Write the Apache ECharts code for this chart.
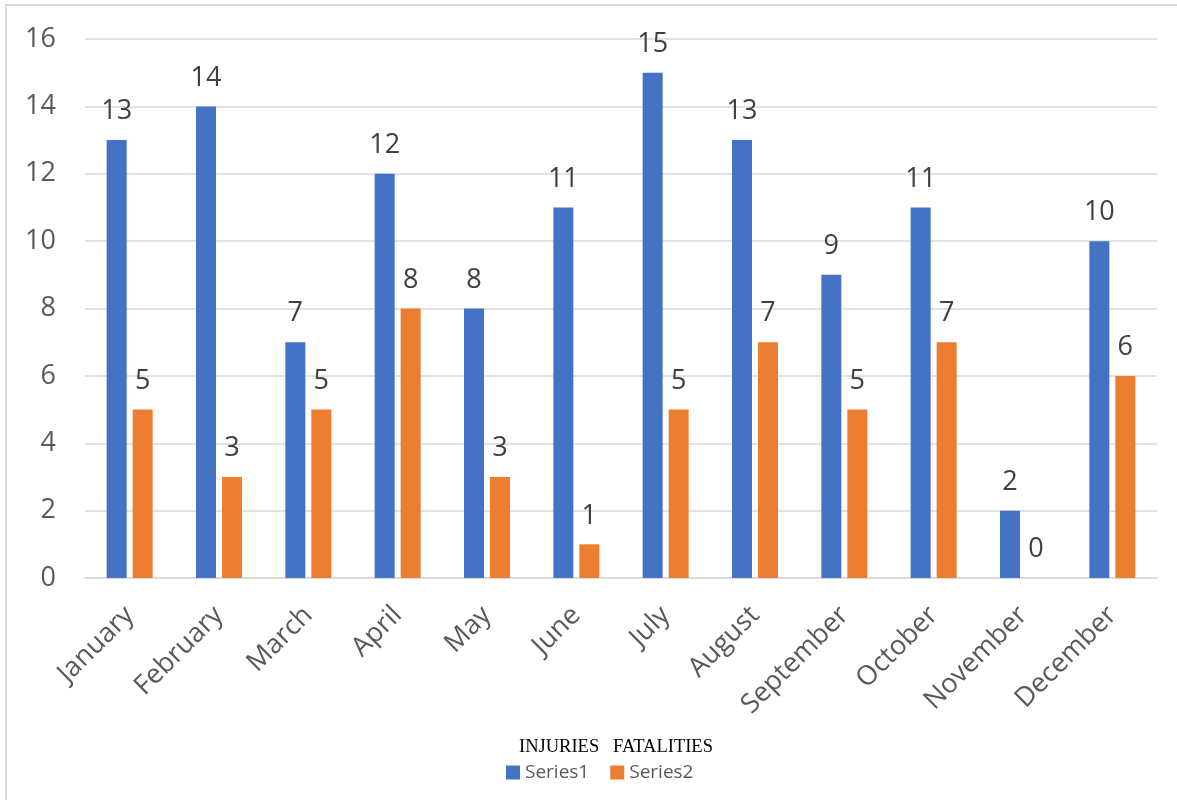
<!DOCTYPE html>
<html>
<head>
<meta charset="utf-8">
<script src="https://cdn.jsdelivr.net/npm/echarts@6/dist/echarts.min.js"></script>
<style>
  html, body { margin: 0; padding: 0; background: #fff; }
  #chart { width: 1177px; height: 800px; }
</style>
</head>
<body>
<div id="chart"></div>
<script>
var months = ["January", "February", "March", "April", "May", "June", "July", "August", "September", "October", "November", "December"];
var series1 = [13, 14, 7, 12, 8, 11, 15, 13, 9, 11, 2, 10];
var series2 = [5, 3, 5, 8, 3, 1, 5, 7, 5, 7, 0, 6];
var yTicks = [0, 2, 4, 6, 8, 10, 12, 14, 16];

var font = "'Open Sans', Lato, sans-serif";

var chart = echarts.init(document.getElementById("chart"));

// same look for both series' value labels
var labelStyle = {
    show: true,
    position: "top",
    distance: 15,
    fontFamily: font,
    fontSize: 27,
    color: "#404040"
};

chart.setOption({
    animation: false,
    title: {
        text: "INJURIES   FATALITIES",
        left: 514,
        top: 733,
        textStyle: {
            fontFamily: "'Liberation Serif', 'DejaVu Serif', serif",
            fontWeight: "normal",
            fontSize: 18.5,
            color: "#000"
        }
    },
    legend: {
        data: ["Series1", "Series2"],
        left: 501,
        top: 758,
        icon: "rect",
        itemWidth: 14,
        itemHeight: 14,
        itemGap: 21,
        textStyle: { fontFamily: font, fontSize: 19, color: "#595959" }
    },
    grid: { left: 85, right: 20, top: 39, bottom: 222 },
    xAxis: {
        type: "category",
        data: months,
        axisLine: { lineStyle: { color: "#d9d9d9", width: 1.5 } },
        axisTick: { show: false },
        axisLabel: {
            rotate: 45,
            interval: 0,
            margin: 33,
            fontFamily: font,
            fontSize: 27,
            color: "#595959"
        }
    },
    yAxis: {
        type: "value",
        min: 0,
        max: 16,
        interval: 2,
        axisLine: { show: false },
        axisTick: { show: false },
        splitLine: { lineStyle: { color: "#d9d9d9", width: 1.5 } },
        axisLabel: {
            margin: 29,
            fontFamily: font,
            fontSize: 27,
            color: "#595959",
            formatter: function (v) { return yTicks.indexOf(v) >= 0 ? String(v) : ""; }
        }
    },
    series: [
        {
            name: "Series1",
            type: "bar",
            data: series1,
            barWidth: 20,
            barGap: "30%",
            itemStyle: { color: "#4472c4" },
            label: labelStyle
        },
        {
            name: "Series2",
            type: "bar",
            data: series2,
            barWidth: 20,
            itemStyle: { color: "#ed7d31" },
            label: labelStyle
        }
    ],
    graphic: [
        {
            type: "rect",
            shape: { x: 6, y: 5, width: 1180, height: 800 },
            style: { fill: "none", stroke: "#d9d9d9", lineWidth: 2 },
            silent: true
        }
    ]
});
</script>
</body>
</html>
